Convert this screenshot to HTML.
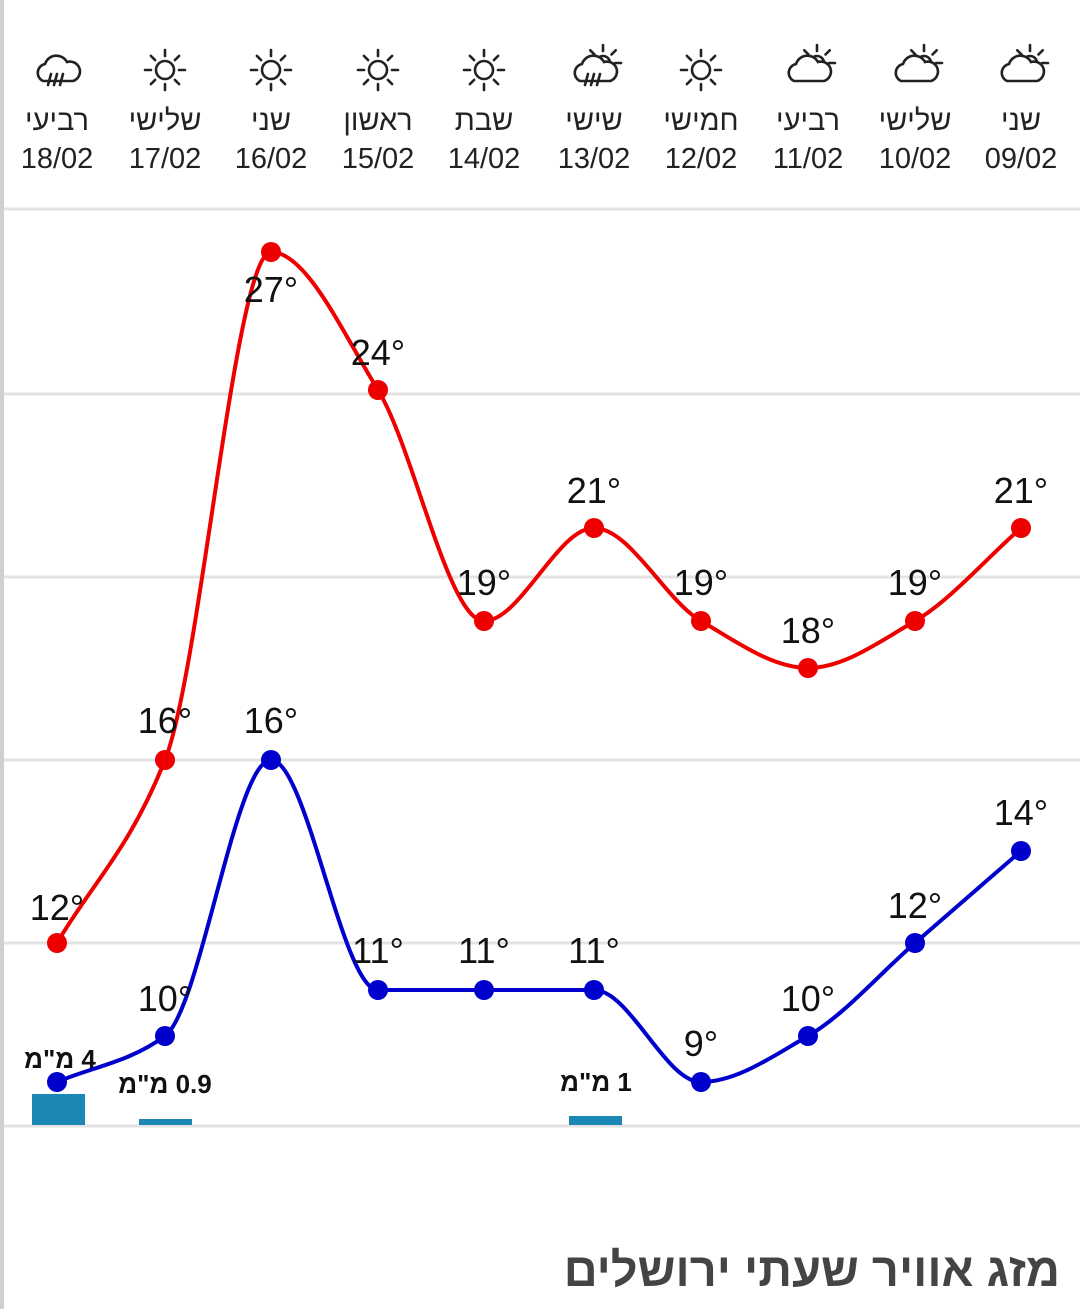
<!DOCTYPE html>
<html><head><meta charset="utf-8"><style>
body{margin:0;background:#fff;width:1080px;height:1309px;overflow:hidden;font-family:"Liberation Sans","Noto Sans CJK SC",sans-serif}
</style></head><body>
<svg id="s" width="1080" height="1309" xmlns="http://www.w3.org/2000/svg">
<rect x="0" y="0" width="4" height="1309" fill="#d0d0d0"/>
<g stroke="#e3e3e3" stroke-width="3">
<line x1="4" x2="1080" y1="209" y2="209"/><line x1="4" x2="1080" y1="394" y2="394"/>
<line x1="4" x2="1080" y1="577" y2="577"/><line x1="4" x2="1080" y1="760" y2="760"/>
<line x1="4" x2="1080" y1="943" y2="943"/><line x1="4" x2="1080" y1="1126" y2="1126"/>
</g>
<g fill="#1a87b5">
<rect x="32" y="1094" width="53" height="31"/><rect x="139" y="1119" width="53" height="6"/><rect x="569" y="1116" width="53" height="9"/>
</g>
<g id="hdr" font-size="29" fill="#222" text-anchor="middle"></g>
<g id="icons" stroke="#222" stroke-width="2.6" fill="none" stroke-linecap="round"></g>
<path id="rp" fill="none" stroke="#e00" stroke-width="4"/>
<path id="bp" fill="none" stroke="#00c" stroke-width="4"/>
<g id="dots"></g>
<g id="lbl" font-size="36" fill="#111" text-anchor="middle"></g>
<g font-size="26" font-weight="bold" fill="#111" text-anchor="middle">
<text x="60" y="1068">מ"מ&#x200E; 4</text><text x="165" y="1093">מ"מ&#x200E; 0.9</text><text x="596" y="1091">מ"מ&#x200E; 1</text>
</g>
<text x="1060" y="1286" font-size="47" font-weight="bold" fill="#444" text-anchor="end">מזג אוויר שעתי ירושלים</text>
</svg>
<script>
var NS="http://www.w3.org/2000/svg";
var X=[57,165,271,378,484,594,701,808,915,1021];
var R=[943,760,252,390,621,528,621,668,621,528];
var B=[1082,1036,760,990,990,990,1082,1036,943,851];
var days=["רביעי","שלישי","שני","ראשון","שבת","שישי","חמישי","רביעי","שלישי","שני"];
var dates=["18/02","17/02","16/02","15/02","14/02","13/02","12/02","11/02","10/02","09/02"];
var ic=["rain","sun","sun","sun","sun","rainsun","sun","cloud","cloud","cloud"];
function el(t,a,p,txt){var e=document.createElementNS(NS,t);for(var k in a)e.setAttribute(k,a[k]);if(txt)e.textContent=txt;document.getElementById(p).appendChild(e);return e;}
function path(Y){var n=X.length,d=[],m=[];
for(var i=0;i<n-1;i++)d.push((Y[i+1]-Y[i])/(X[i+1]-X[i]));
m[0]=d[0];m[n-1]=d[n-2];
for(var i=1;i<n-1;i++){if(d[i-1]*d[i]<=0)m[i]=0;else{var h0=X[i]-X[i-1],h1=X[i+1]-X[i];var w1=2*h1+h0,w2=h1+2*h0;m[i]=(w1+w2)/(w1/d[i-1]+w2/d[i]);}}
var s="M"+X[0]+","+Y[0];
for(var i=0;i<n-1;i++){var h=(X[i+1]-X[i])/3;s+=" C"+(X[i]+h)+","+(Y[i]+m[i]*h)+" "+(X[i+1]-h)+","+(Y[i+1]-m[i+1]*h)+" "+X[i+1]+","+Y[i+1];}
return s;}
document.getElementById("rp").setAttribute("d",path(R));
document.getElementById("bp").setAttribute("d",path(B));
function sun(x,y,r,a0,a1){for(var a=a0;a<=a1;a++){var an=a*Math.PI/4;el("line",{x1:x+(r+5)*Math.cos(an),y1:y+(r+5)*Math.sin(an),x2:x+(r+11)*Math.cos(an),y2:y+(r+11)*Math.sin(an)},"icons");}}
for(var i=0;i<10;i++){
el("circle",{cx:X[i],cy:R[i],r:10,fill:"#e00"},"dots");
el("circle",{cx:X[i],cy:B[i],r:10,fill:"#00c"},"dots");
el("text",{x:X[i],y:130},"hdr",days[i]);el("text",{x:X[i],y:168},"hdr",dates[i]);
var cy=70;
if(ic[i]=="sun"){el("circle",{cx:X[i],cy:cy,r:9},"icons");sun(X[i],cy,9,0,7);}
else{var ox=X[i]-4;
if(ic[i]!="rain"){el("circle",{cx:X[i]+9,cy:cy-7,r:7},"icons");sun(X[i]+9,cy-7,7,-4,0);}
el("path",{d:"M"+(ox-10)+","+(cy+11)+" a9,9 0 0 1 2,-17 a12,12 0 0 1 22,-2 a9,9 0 0 1 6,19 z",fill:"#fff"},"icons");
if(ic[i]!="cloud"){for(var k=0;k<3;k++)el("line",{x1:ox-2+k*6,y1:cy+4,x2:ox-5+k*6,y2:cy+15},"icons");}}
}
var rl=[[57,920,"12°"],[165,733,"16°"],[271,302,"27°"],[378,365,"24°"],[484,595,"19°"],[594,503,"21°"],[701,595,"19°"],[808,643,"18°"],[915,595,"19°"],[1021,503,"21°"],
[271,733,"16°"],[165,1011,"10°"],[378,963,"11°"],[484,963,"11°"],[594,963,"11°"],[701,1056,"9°"],[808,1011,"10°"],[915,918,"12°"],[1021,825,"14°"]];
rl.forEach(function(l){el("text",{x:l[0],y:l[1]},"lbl",l[2]);});
</script>
</body></html>
